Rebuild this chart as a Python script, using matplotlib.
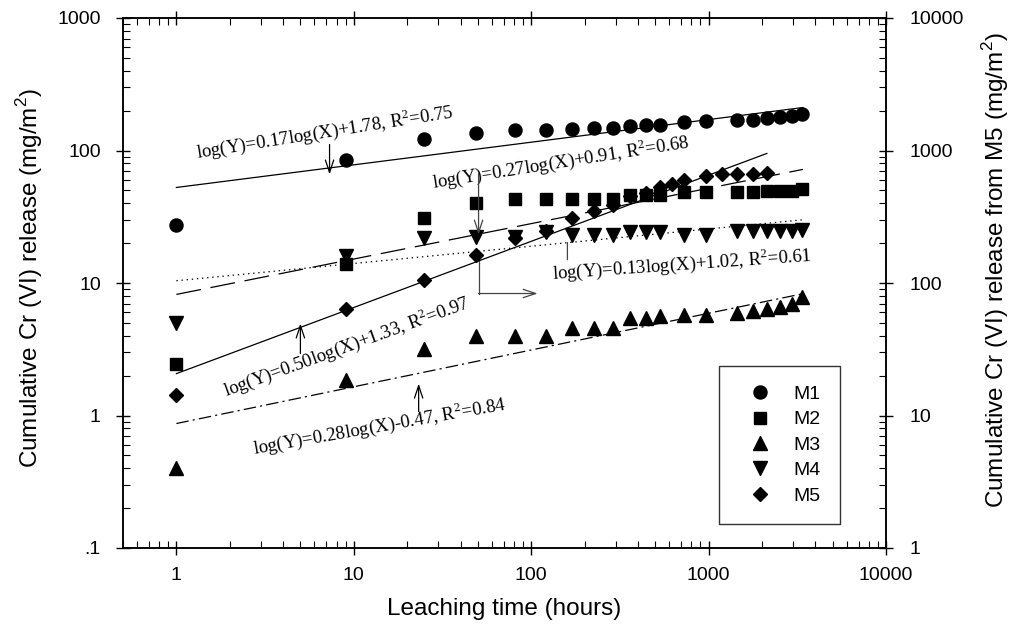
import matplotlib
matplotlib.use("Agg")
import matplotlib.pyplot as plt
from matplotlib.ticker import LogLocator, NullFormatter

plt.rcParams['font.family'] = ['Liberation Sans', 'DejaVu Sans']
plt.rcParams['mathtext.fontset'] = 'custom'
plt.rcParams['mathtext.rm'] = 'Liberation Serif'
plt.rcParams['mathtext.sf'] = 'Liberation Sans'
plt.rcParams['lines.scale_dashes'] = False

# ---------------- data ----------------
times = [1, 9, 25, 49, 81, 121, 169, 225, 289, 361, 441, 529, 729, 961,
         1440, 1780, 2130, 2520, 2940, 3360]
m1 = [27.6, 85.5, 123, 136, 142, 144, 146, 149, 149, 154, 157, 157, 163, 166,
      169, 170, 175, 178, 181, 187]
m2 = [2.45, 13.8, 30.7, 40.5, 42.7, 42.7, 43.4, 43.4, 43.4, 46.5, 46.5, 46.5,
      48.2, 48.2, 48.2, 49.0, 49.9, 49.9, 49.9, 50.8]
m3 = [0.40, 1.84, 3.2, 3.95, 3.95, 4.0, 4.54, 4.54, 4.6, 5.4, 5.4, 5.6, 5.7,
      5.7, 5.9, 6.2, 6.4, 6.6, 6.9, 7.9]
m4 = [4.95, 15.9, 21.7, 22.4, 22.4, 24.1, 23.2, 23.2, 23.2, 24.1, 24.1, 24.1,
      23.2, 23.2, 24.5, 24.5, 24.5, 24.5, 24.5, 25.3]
m5_times = [1, 9, 25, 49, 81, 121, 169, 225, 289, 361, 441, 529, 625, 729,
            961, 1185, 1440, 1780, 2130]
m5 = [14.2, 64, 106, 164, 217, 245, 307, 347, 391, 450, 474, 526, 554, 604,
      637, 659, 670, 670, 682]   # right axis (mg/m2)

# fitted regression lines (end points)
fit_x = [1, 3400]
fit_m1 = [52.6, 211]
fit_m2 = [8.2, 72]
fit_m3 = [0.87, 8.3]
fit_m4 = [10.4, 30]
fit_m5_x = [1, 2130]
fit_m5 = [20.7, 950]

labels = ['M1', 'M2', 'M3', 'M4', 'M5']
eq_texts = [
    r'log(Y)=0.17log(X)+1.78, R$^2$=0.75',
    r'log(Y)=0.27log(X)+0.91, R$^2$=0.68',
    r'log(Y)=0.13log(X)+1.02, R$^2$=0.61',
    r'log(Y)=0.50log(X)+1.33, R$^2$=0.97',
    r'log(Y)=0.28log(X)-0.47, R$^2$=0.84',
]
xticks = [1, 10, 100, 1000, 10000]
xticklabels = ['1', '10', '100', '1000', '10000']
yticks_left = [0.1, 1, 10, 100, 1000]
yticklabels_left = ['.1', '1', '10', '100', '1000']
yticks_right = [1, 10, 100, 1000, 10000]
yticklabels_right = ['1', '10', '100', '1000', '10000']

# ---------------- figure ----------------
W, H = 1013, 641
fig = plt.figure(figsize=(W / 100, H / 100), dpi=100)
ax = fig.add_axes([123 / W, 1 - 548 / H, (886 - 123) / W, (548 - 18) / H])
ax2 = ax.twinx()

ax.set_xscale('log')
ax.set_yscale('log')
ax2.set_yscale('log')
ax.set_xlim(0.5, 10000)
ax.set_ylim(0.1, 1000)
ax2.set_ylim(1, 10000)

k = dict(color='black', linestyle='none')
h1, = ax.plot(times, m1, marker='o', ms=9.4, **k)
h2, = ax.plot(times, m2, marker='s', ms=8.4, **k)
h3, = ax.plot(times, m3, marker='^', ms=10, **k)
h4, = ax.plot(times, m4, marker='v', ms=10, **k)
h5, = ax2.plot(m5_times, m5, marker='D', ms=7.6, **k)

lw = 0.9
ax.plot(fit_x, fit_m1, color='black', lw=lw)
ax.plot(fit_x, fit_m2, color='black', lw=lw, dashes=(18, 7))
ax.plot(fit_x, fit_m3, color='black', lw=lw, dashes=(9, 3, 1.5, 3))
ax.plot(fit_x, fit_m4, color='black', lw=lw, dashes=(1, 2.7))
ax2.plot(fit_m5_x, fit_m5, color='black', lw=lw)

# ---------------- annotations ----------------
tfont = dict(family='Liberation Serif', fontsize=13.5, color='black',
             ha='left', va='baseline', rotation_mode='anchor')
ax.text(1.30, 88.5, eq_texts[0], rotation=9, **tfont)
ax.text(27.8, 51.7, eq_texts[1], rotation=9, **tfont)
ax.text(132, 10.8, eq_texts[2], rotation=4, **tfont)
ax.text(1.89, 1.39, eq_texts[3], rotation=20, **tfont)
ax.text(2.75, 0.508, eq_texts[4], rotation=10, **tfont)

ap = dict(arrowstyle='->,head_length=0.9,head_width=0.3', color='black',
          lw=0.9, mutation_scale=10, shrinkA=0, shrinkB=0)
ax.annotate('', xy=(7.3, 65.9), xytext=(7.3, 111), arrowprops=ap)
ax.annotate('', xy=(50.5, 23.2), xytext=(50.5, 67), arrowprops=dict(ap, color='#444444'))
ax.annotate('', xy=(160, 20.2), xytext=(160, 15.0),
            arrowprops=dict(arrowstyle='-', color='#444444', lw=0.9, shrinkA=0, shrinkB=0))
ax.annotate('', xy=(5.0, 4.95), xytext=(5.0, 2.94), arrowprops=ap)
ax.annotate('', xy=(23.2, 1.74), xytext=(23.2, 1.07), arrowprops=ap)
# elbow arrow pointing to right axis for M5
ax.plot([50.5, 50.5], [15.3, 8.33], color='#444444', lw=0.9)
ax.annotate('', xy=(108.7, 8.33), xytext=(50.5, 8.33),
            arrowprops=dict(ap, color='#444444'))

# ---------------- axes styling ----------------
ax.set_xticks(xticks)
ax.set_xticklabels(xticklabels)
ax.set_yticks(yticks_left)
ax.set_yticklabels(yticklabels_left)
ax2.set_yticks(yticks_right)
ax2.set_yticklabels(yticklabels_right)
for a in (ax, ax2):
    a.yaxis.set_minor_locator(LogLocator(base=10, subs=range(2, 10), numticks=20))
    a.yaxis.set_minor_formatter(NullFormatter())
ax.xaxis.set_minor_locator(LogLocator(base=10, subs=range(2, 10), numticks=20))
ax.xaxis.set_minor_formatter(NullFormatter())

ax.tick_params(axis='both', which='major', direction='inout', length=10, width=1,
               labelsize=14, top=True, right=False)
ax.tick_params(axis='x', which='major', pad=9)
ax.tick_params(axis='y', which='major', pad=11)
ax.tick_params(axis='both', which='minor', direction='in', length=5, width=0.8,
               top=True, right=False)
ax2.tick_params(axis='y', which='major', direction='inout', length=10, width=1,
                labelsize=14, pad=12)
ax2.tick_params(axis='y', which='minor', direction='in', length=5, width=0.8)
for a in (ax, ax2):
    for s in a.spines.values():
        s.set_linewidth(1.1)

ax.set_xlabel('Leaching time (hours)', fontsize=17.5, labelpad=10)
ax.set_ylabel(r'Cumulative Cr (VI) release (mg/m$^{\mathsf{2}}$)', fontsize=17.5)
ax2.set_ylabel(r'Cumulative Cr (VI) release from M5 (mg/m$^{\mathsf{2}}$)', fontsize=17.5)
ax.yaxis.set_label_coords(-0.102, 0.51)
ax2.yaxis.set_label_coords(1.123, 0.525)

leg = ax2.legend([h1, h2, h3, h4, h5], labels, loc='upper left',
                 bbox_to_anchor=(719 / W, 1 - 366 / H), bbox_transform=fig.transFigure,
                 fontsize=14, frameon=True, fancybox=False, edgecolor='black',
                 borderpad=1.0, labelspacing=0.4, handlelength=2.2,
                 handletextpad=0.6, borderaxespad=0, numpoints=1)
leg.get_frame().set_linewidth(1.0)

fig.savefig('out.png', dpi=100)
